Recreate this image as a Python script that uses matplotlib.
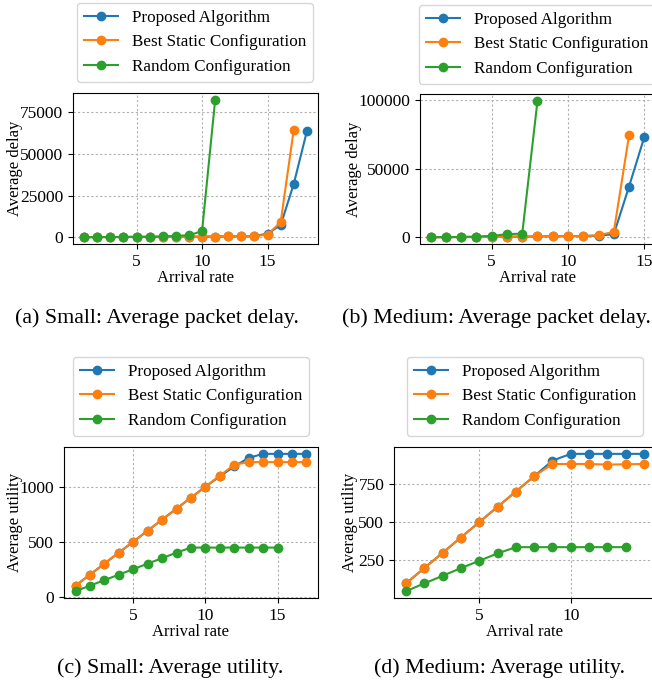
import matplotlib
matplotlib.use('Agg')
import matplotlib.pyplot as plt

plt.rcParams['font.family'] = ['Liberation Serif', 'DejaVu Serif']
plt.rcParams['font.size'] = 12
plt.rcParams['xtick.labelsize'] = 12.5
plt.rcParams['ytick.labelsize'] = 12.5
plt.rcParams['legend.fontsize'] = 12.3

labels = ['Proposed Algorithm', 'Best Static Configuration', 'Random Configuration']
colors = ['#1f77b4', '#ff7f0e', '#2ca02c']

# (a) small network, delay
small_delay_prop = [50, 80, 100, 120, 150, 180, 220, 260, 300, 350, 400, 500, 550, 650, 2200, 7200, 32000, 63500]
small_delay_best = [50, 80, 100, 120, 150, 180, 220, 260, 300, 350, 400, 500, 550, 650, 1600, 9000, 64500]
small_delay_rand = [60, 100, 150, 200, 260, 330, 450, 800, 1200, 3600, 82400]

# (b) medium network, delay
med_delay_prop = [50, 80, 120, 200, 300, 400, 500, 600, 700, 800, 900, 1200, 2200, 37100, 73300]
med_delay_best = [50, 80, 120, 200, 300, 400, 500, 600, 700, 800, 900, 1500, 3900, 74500]
med_delay_rand = [60, 150, 250, 500, 1000, 2200, 2700, 99750]

# (c) small network, utility
small_util_prop = [100, 200, 300, 400, 500, 600, 700, 800, 900, 1000, 1093, 1184, 1262, 1298, 1298, 1298, 1298]
small_util_best = [100, 200, 300, 400, 500, 600, 700, 800, 900, 1000, 1100, 1199, 1223, 1223, 1223, 1223, 1223]
small_util_rand = [50, 100, 150, 200, 250, 300, 350, 400, 446, 446, 446, 446, 446, 446, 446]

# (d) medium network, utility
med_util_prop = [100, 200, 300, 400, 500, 600, 700, 800, 902, 946, 946, 946, 946, 946]
med_util_best = [100, 200, 300, 400, 500, 600, 700, 800, 880, 880, 880, 876, 878, 880]
med_util_rand = [50, 100, 150, 200, 248, 296, 337, 337, 337, 337, 337, 337, 337]

W, H = 652, 683
fig = plt.figure(figsize=(W / 100, H / 100), dpi=100)


def px_axes(l, t, r, b):
    return fig.add_axes([l / W, 1 - b / H, (r - l) / W, (b - t) / H])


panels = [
    ((73, 93, 318, 244), (small_delay_prop, small_delay_best, small_delay_rand),
     'Average delay', -0.205, [5, 10, 15], [0, 25000, 50000, 75000], (77, 3),
     '(a) Small: Average packet delay.', (157, 318)),
    ((420, 94, 655, 244), (med_delay_prop, med_delay_best, med_delay_rand),
     'Average delay', -0.246, [5, 10, 15], [0, 50000, 100000], (419, 5),
     '(b) Medium: Average packet delay.', (497, 318)),
    ((64, 447, 318, 598), (small_util_prop, small_util_best, small_util_rand),
     'Average utility', -0.162, [5, 10, 15], [0, 500, 1000], (73, 357),
     '(c) Small: Average utility.', (170, 668)),
    ((394, 447, 656, 598), (med_util_prop, med_util_best, med_util_rand),
     'Average utility', -0.136, [5, 10], [250, 500, 750], (407, 357),
     '(d) Medium: Average utility.', (500, 668)),
]

for box, series, ylab, ylx, xticks, yticks, legpos, caption, cappos in panels:
    ax = px_axes(*box)
    for vals, lab, c in zip(series, labels, colors):
        xs = list(range(1, len(vals) + 1))
        ax.plot(xs, vals, marker='o', color=c, label=lab)
    ax.set_xticks(xticks)
    ax.set_yticks(yticks)
    ax.ticklabel_format(axis='y', style='plain')
    ax.set_xlabel('Arrival rate', labelpad=0)
    ax.set_ylabel(ylab)
    ax.yaxis.set_label_coords(ylx, 0.5)
    ax.grid(True, linestyle=(0, (2, 2)), color='#b0b0b0', linewidth=0.8)
    ax.legend(loc='upper left', bbox_to_anchor=(legpos[0] / W, 1 - legpos[1] / H),
              bbox_transform=fig.transFigure, borderaxespad=0)
    fig.text(cappos[0] / W, 1 - cappos[1] / H, caption, ha='center', va='center', fontsize=15.8)

fig.savefig('out.png', dpi=100)
